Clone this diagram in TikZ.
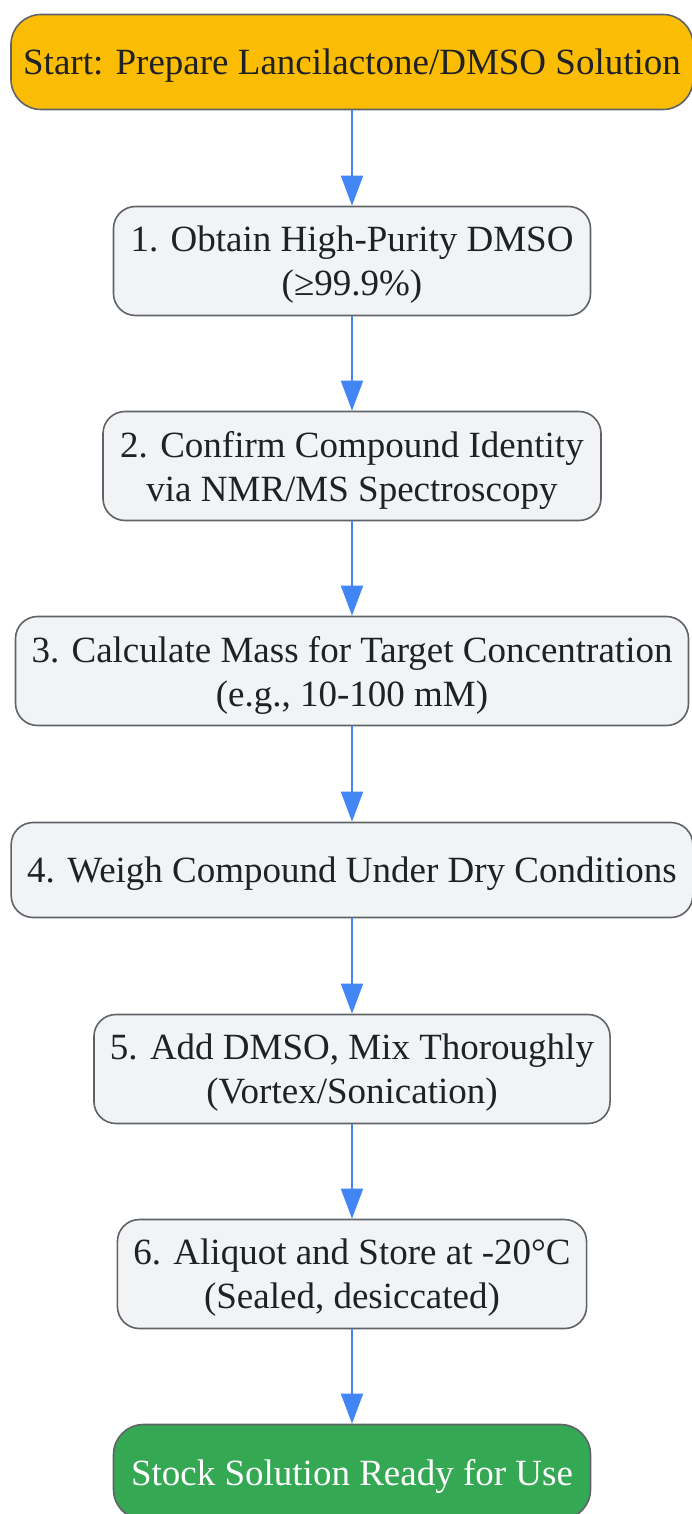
\documentclass[tikz,border=0pt]{standalone}
\usepackage{fontspec}
\setmainfont{Liberation Serif}
\usetikzlibrary{arrows.meta}
\definecolor{stepfill}{HTML}{F1F3F4}
\definecolor{stepline}{HTML}{5F6368}
\definecolor{startfill}{HTML}{FBBC04}
\definecolor{endfill}{HTML}{34A853}
\definecolor{flowblue}{HTML}{4285F4}
\definecolor{textdark}{HTML}{202124}
\tikzset{
	stepbox/.style={draw=stepline, fill=stepfill, line width=1.6pt, rounded corners=22pt, align=center,
		text=textdark, inner xsep=16pt, text depth=0pt, minimum height=109pt, font=\fontsize{37}{44}\selectfont},
	startbox/.style={stepbox, fill=startfill, rounded corners=30pt, minimum height=95pt, inner xsep=11pt},
	endbox/.style={stepbox, fill=endfill, text=white, rounded corners=30pt, minimum height=95pt},
	flow/.style={draw=flowblue, line width=1.6pt, -{Triangle[width=22pt,length=30pt]}}
}
\begin{document}
\begin{tikzpicture}[x=1pt, y=-1pt, line join=round]
	\useasboundingbox (0,0) rectangle (692,1514);
	\node[startbox, minimum width=682pt] (start) at (352,62) {Start: Prepare Lancilactone/DMSO Solution};
	\node[stepbox, minimum width=477pt] (s1) at (352,261) {1. Obtain High-Purity DMSO\\(≥99.9\%)};
	\node[stepbox, minimum width=498pt] (s2) at (352,466) {2. Confirm Compound Identity\\via NMR/MS Spectroscopy};
	\node[stepbox, minimum width=672pt] (s3) at (352,671) {3. Calculate Mass for Target Concentration\\(e.g., 10-100 mM)};
	\node[stepbox, minimum width=680pt, minimum height=95pt] (s4) at (352,870) {4. Weigh Compound Under Dry Conditions};
	\node[stepbox, minimum width=516pt] (s5) at (352,1069) {5. Add DMSO, Mix Thoroughly\\(Vortex/Sonication)};
	\node[stepbox, minimum width=468pt] (s6) at (352,1274) {6. Aliquot and Store at -20°C\\(Sealed, desiccated)};
	\node[endbox, minimum width=477pt] (done) at (352,1472) {Stock Solution Ready for Use};
	\foreach \a/\b in {start/s1, s1/s2, s2/s3, s3/s4, s4/s5, s5/s6, s6/done}
		\draw[flow] (\a) -- (\b);
\end{tikzpicture}
\end{document}
